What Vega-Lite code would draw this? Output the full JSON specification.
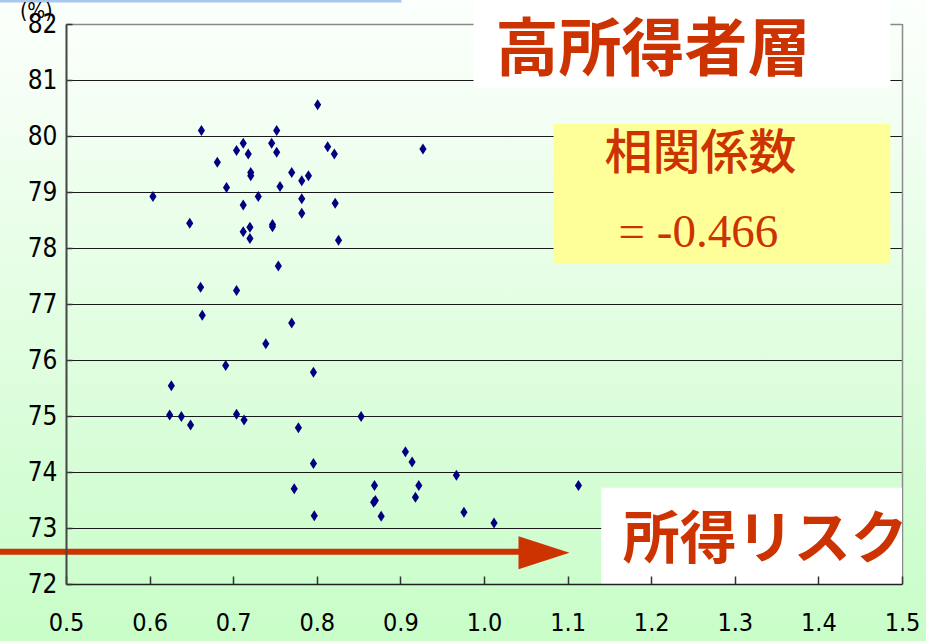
{
  "$schema": "https://vega.github.io/schema/vega-lite/v6.json",
  "width": 836,
  "height": 560,
  "autosize": {"type": "none"},
  "padding": {"left": 66, "top": 24, "right": 24, "bottom": 57},
  "background": "#e2fde2",
  "config": {"view": {"stroke": null}, "axis": {"zindex": 2, "grid": false, "title": null}},
  "layer": [
    {
      "data": {"values": [{}]},
      "mark": {"type": "rect", "fill": {"gradient": "linear", "x1": 0, "y1": 0, "x2": 0, "y2": 1, "stops": [{"offset": 0, "color": "#fcfffc"}, {"offset": 1, "color": "#c8fdc8"}]}},
      "encoding": {
        "x": {"datum": 0.4207, "type": "quantitative", "title": null},
        "x2": {"datum": 1.53},
        "y": {"datum": 82.44, "type": "quantitative", "title": null},
        "y2": {"datum": 70.98}
      }
    },
    {
      "data": {"values": [{}]},
      "mark": {"type": "rect", "color": "#a8c8f0"},
      "encoding": {
        "x": {"datum": 0.4207, "type": "quantitative", "title": null},
        "x2": {"datum": 0.9014},
        "y": {"datum": 82.44, "type": "quantitative", "title": null},
        "y2": {"datum": 82.385}
      }
    },
    {
      "data": {"values": [{"g": 73}, {"g": 74}, {"g": 75}, {"g": 76}, {"g": 77}, {"g": 78}, {"g": 79}, {"g": 80}, {"g": 81}]},
      "mark": {"type": "rule", "color": "#1a1a1a", "strokeWidth": 1, "yOffset": 0.5},
      "encoding": {"y": {"field": "g", "type": "quantitative", "title": null}}
    },
    {
      "data": {"values": [{}]},
      "mark": {"type": "rule", "color": "#8a8a8a", "strokeWidth": 1.5, "yOffset": 0.5},
      "encoding": {"y": {"datum": 82, "type": "quantitative", "title": null}}
    },
    {
      "data": {"values": [{}]},
      "mark": {"type": "rule", "color": "#8a8a8a", "strokeWidth": 1.5, "xOffset": 0.5},
      "encoding": {"x": {"datum": 1.5, "type": "quantitative", "title": null}}
    },
    {
      "data": {"values": [
        {"risk": 0.662, "rate": 80.10}, {"risk": 0.604, "rate": 78.92}, {"risk": 0.648, "rate": 78.44},
        {"risk": 0.681, "rate": 79.53}, {"risk": 0.692, "rate": 79.08}, {"risk": 0.704, "rate": 79.74},
        {"risk": 0.712, "rate": 79.87}, {"risk": 0.718, "rate": 79.68}, {"risk": 0.721, "rate": 79.35},
        {"risk": 0.721, "rate": 79.29}, {"risk": 0.712, "rate": 78.77}, {"risk": 0.730, "rate": 78.92},
        {"risk": 0.712, "rate": 78.29}, {"risk": 0.720, "rate": 78.37}, {"risk": 0.720, "rate": 78.17},
        {"risk": 0.746, "rate": 79.87}, {"risk": 0.752, "rate": 80.10}, {"risk": 0.752, "rate": 79.71},
        {"risk": 0.770, "rate": 79.35}, {"risk": 0.756, "rate": 79.10}, {"risk": 0.747, "rate": 78.42},
        {"risk": 0.747, "rate": 78.38}, {"risk": 0.754, "rate": 77.68}, {"risk": 0.661, "rate": 77.30},
        {"risk": 0.704, "rate": 77.24}, {"risk": 0.663, "rate": 76.80}, {"risk": 0.770, "rate": 76.66},
        {"risk": 0.739, "rate": 76.29}, {"risk": 0.801, "rate": 80.56}, {"risk": 0.813, "rate": 79.81},
        {"risk": 0.821, "rate": 79.68}, {"risk": 0.927, "rate": 79.77}, {"risk": 0.782, "rate": 79.20},
        {"risk": 0.790, "rate": 79.29}, {"risk": 0.782, "rate": 78.88}, {"risk": 0.822, "rate": 78.80},
        {"risk": 0.782, "rate": 78.62}, {"risk": 0.826, "rate": 78.14}, {"risk": 0.626, "rate": 75.54},
        {"risk": 0.624, "rate": 75.02}, {"risk": 0.638, "rate": 74.99}, {"risk": 0.649, "rate": 74.84},
        {"risk": 0.691, "rate": 75.90}, {"risk": 0.704, "rate": 75.03}, {"risk": 0.713, "rate": 74.93},
        {"risk": 0.773, "rate": 73.70}, {"risk": 0.796, "rate": 75.78}, {"risk": 0.853, "rate": 74.99},
        {"risk": 0.778, "rate": 74.79}, {"risk": 0.796, "rate": 74.15}, {"risk": 0.797, "rate": 73.22},
        {"risk": 0.906, "rate": 74.36}, {"risk": 0.914, "rate": 74.18}, {"risk": 0.869, "rate": 73.76},
        {"risk": 0.922, "rate": 73.76}, {"risk": 0.870, "rate": 73.49}, {"risk": 0.868, "rate": 73.46},
        {"risk": 0.918, "rate": 73.55}, {"risk": 0.877, "rate": 73.21}, {"risk": 0.967, "rate": 73.94},
        {"risk": 0.976, "rate": 73.28}, {"risk": 1.012, "rate": 73.09}, {"risk": 1.113, "rate": 73.76}
      ]},
      "mark": {"type": "point", "filled": true, "opacity": 1, "color": "#000080", "size": 121, "shape": "M0,-1L0.65,0L0,1L-0.65,0Z"},
      "encoding": {
        "x": {
          "field": "risk", "type": "quantitative", "title": null,
          "scale": {"domain": [0.5, 1.5], "nice": false, "zero": false},
          "axis": {
            "title": null, "grid": false, "zindex": 2,
            "values": [0.5, 0.6, 0.7, 0.8, 0.9, 1.0, 1.1, 1.2, 1.3, 1.4, 1.5],
            "format": ".1f", "labelFlush": false, "labelOverlap": false,
            "domainColor": "#222222", "domainWidth": 1.5,
            "tickColor": "#333333", "tickSize": -8, "tickWidth": 1.5,
            "labelFont": "Liberation Sans Narrow, Arial Narrow, DejaVu Sans Condensed, sans-serif",
            "labelFontSize": 25, "labelColor": "#000000", "labelPadding": 34
          }
        },
        "y": {
          "field": "rate", "type": "quantitative", "title": null,
          "scale": {"domain": [72, 82], "nice": false, "zero": false},
          "axis": {
            "title": null, "grid": false, "zindex": 2,
            "values": [72, 73, 74, 75, 76, 77, 78, 79, 80, 81, 82],
            "format": "d", "labelFlush": false, "labelOverlap": false,
            "domainColor": "#444444", "domainWidth": 2,
            "tickColor": "#333333", "tickSize": -6, "tickWidth": 1.5,
            "labelFont": "Liberation Sans Narrow, Arial Narrow, DejaVu Sans Condensed, sans-serif",
            "labelFontSize": 26, "labelColor": "#000000", "labelPadding": 15
          }
        }
      }
    },
    {
      "data": {"values": [{}]},
      "mark": {"type": "rect", "color": "#ffffff"},
      "encoding": {
        "x": {"datum": 0.9875, "type": "quantitative", "title": null},
        "x2": {"datum": 1.4861},
        "y": {"datum": 82.44, "type": "quantitative", "title": null},
        "y2": {"datum": 80.86}
      }
    },
    {
      "data": {"values": [{}]},
      "mark": {"type": "text", "text": "高所得者層", "font": "Noto Sans CJK JP", "fontSize": 63, "fontWeight": "bold", "color": "#cc3300", "align": "center", "baseline": "middle"},
      "encoding": {
        "x": {"datum": 1.2021, "type": "quantitative", "title": null},
        "y": {"datum": 81.52, "type": "quantitative", "title": null}
      }
    },
    {
      "data": {"values": [{}]},
      "mark": {"type": "rect", "color": "#ffff99"},
      "encoding": {
        "x": {"datum": 1.0832, "type": "quantitative", "title": null},
        "x2": {"datum": 1.4861},
        "y": {"datum": 80.22, "type": "quantitative", "title": null},
        "y2": {"datum": 77.72}
      }
    },
    {
      "data": {"values": [{}]},
      "mark": {"type": "text", "text": "相関係数", "font": "Noto Sans CJK JP", "fontSize": 48, "fontWeight": 500, "color": "#cc3300", "align": "center", "baseline": "middle"},
      "encoding": {
        "x": {"datum": 1.2589, "type": "quantitative", "title": null},
        "y": {"datum": 79.657, "type": "quantitative", "title": null}
      }
    },
    {
      "data": {"values": [{}]},
      "mark": {"type": "text", "text": "= -0.466", "font": "Liberation Serif", "fontSize": 47, "color": "#cc3300", "align": "center", "baseline": "alphabetic"},
      "encoding": {
        "x": {"datum": 1.2565, "type": "quantitative", "title": null},
        "y": {"datum": 78.023, "type": "quantitative", "title": null}
      }
    },
    {
      "data": {"values": [{}]},
      "mark": {"type": "rect", "color": "#ffffff"},
      "encoding": {
        "x": {"datum": 1.1402, "type": "quantitative", "title": null},
        "x2": {"datum": 1.5},
        "y": {"datum": 73.72, "type": "quantitative", "title": null},
        "y2": {"datum": 71.99}
      }
    },
    {
      "data": {"values": [{}]},
      "mark": {"type": "text", "text": "所得リスク", "font": "Noto Sans CJK JP", "fontSize": 57, "fontWeight": "bold", "color": "#cc3300", "align": "center", "baseline": "middle"},
      "encoding": {
        "x": {"datum": 1.3363, "type": "quantitative", "title": null},
        "y": {"datum": 72.773, "type": "quantitative", "title": null}
      }
    },
    {
      "data": {"values": [{}]},
      "mark": {"type": "rule", "color": "#cc3300", "strokeWidth": 6},
      "encoding": {
        "x": {"datum": 0.4207, "type": "quantitative", "title": null},
        "x2": {"datum": 1.045},
        "y": {"datum": 72.577, "type": "quantitative", "title": null}
      }
    },
    {
      "data": {"values": [{}]},
      "mark": {"type": "point", "filled": true, "opacity": 1, "color": "#cc3300", "size": 2601, "shape": "M-1,-0.647L1,0L-1,0.647Z"},
      "encoding": {
        "x": {"datum": 1.0718, "type": "quantitative", "title": null},
        "y": {"datum": 72.56, "type": "quantitative", "title": null}
      }
    },
    {
      "data": {"values": [{}]},
      "mark": {"type": "text", "text": "(%)", "font": "Liberation Sans Narrow, Arial Narrow, DejaVu Sans Condensed, sans-serif", "fontSize": 21, "color": "#000000", "align": "center", "baseline": "alphabetic"},
      "encoding": {
        "x": {"datum": 0.4645, "type": "quantitative", "title": null},
        "y": {"datum": 82.1, "type": "quantitative", "title": null}
      }
    }
  ]
}
